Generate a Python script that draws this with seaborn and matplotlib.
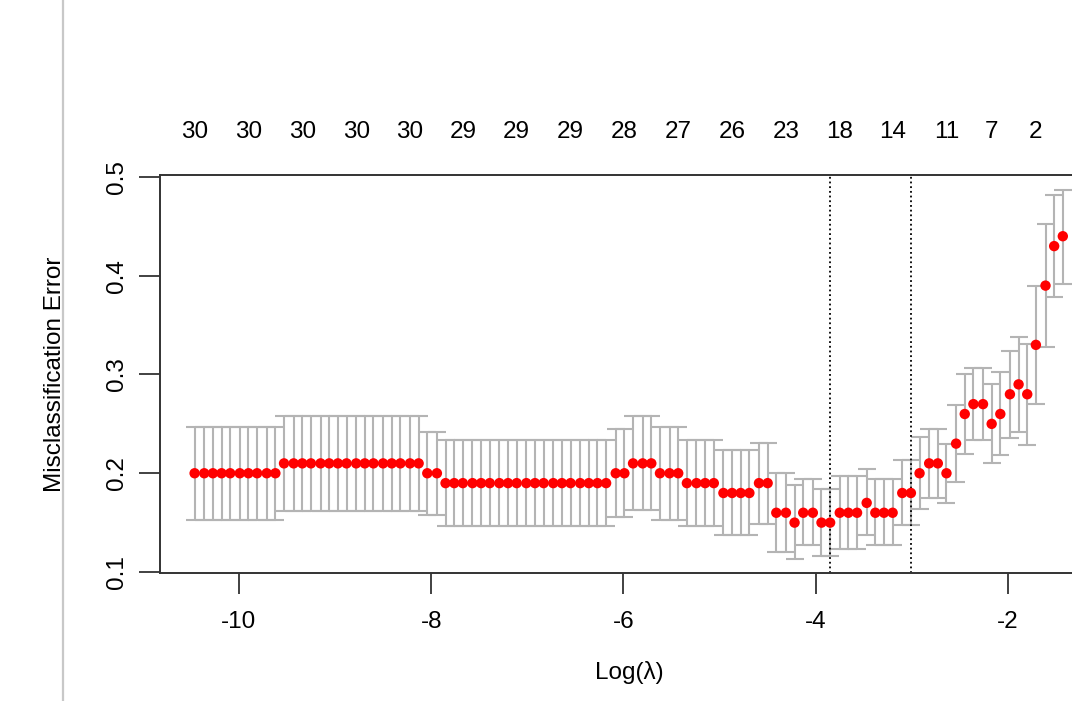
import matplotlib
matplotlib.use('Agg')
import matplotlib.pyplot as plt
import seaborn as sns
import pandas as pd

# cv.glmnet curve
log_lambda = [
    -10.46, -10.36, -10.27, -10.18, -10.09, -9.99, -9.90, -9.81, -9.71, -9.62,
    -9.53, -9.43, -9.34, -9.25, -9.15, -9.06, -8.97, -8.88, -8.78, -8.69,
    -8.60, -8.50, -8.41, -8.32, -8.22, -8.13, -8.04, -7.94, -7.85, -7.76,
    -7.67, -7.57, -7.48, -7.39, -7.29, -7.20, -7.11, -7.01, -6.92, -6.83,
    -6.73, -6.64, -6.55, -6.45, -6.36, -6.27, -6.18, -6.08, -5.99, -5.90,
    -5.80, -5.71, -5.62, -5.52, -5.43, -5.34, -5.24, -5.15, -5.06, -4.96,
    -4.87, -4.78, -4.69, -4.59, -4.50, -4.41, -4.31, -4.22, -4.13, -4.03,
    -3.94, -3.85, -3.75, -3.66, -3.57, -3.47, -3.38, -3.29, -3.20, -3.10,
    -3.01, -2.92, -2.82, -2.73, -2.64, -2.54, -2.45, -2.36, -2.26, -2.17,
    -2.08, -1.98, -1.89, -1.80, -1.71, -1.61, -1.52, -1.43,
]

cv_mean = [
    0.20, 0.20, 0.20, 0.20, 0.20, 0.20, 0.20, 0.20, 0.20, 0.20,
    0.21, 0.21, 0.21, 0.21, 0.21, 0.21, 0.21, 0.21, 0.21, 0.21,
    0.21, 0.21, 0.21, 0.21, 0.21, 0.21, 0.20, 0.20, 0.19, 0.19,
    0.19, 0.19, 0.19, 0.19, 0.19, 0.19, 0.19, 0.19, 0.19, 0.19,
    0.19, 0.19, 0.19, 0.19, 0.19, 0.19, 0.19, 0.20, 0.20, 0.21,
    0.21, 0.21, 0.20, 0.20, 0.20, 0.19, 0.19, 0.19, 0.19, 0.18,
    0.18, 0.18, 0.18, 0.19, 0.19, 0.16, 0.16, 0.15, 0.16, 0.16,
    0.15, 0.15, 0.16, 0.16, 0.16, 0.17, 0.16, 0.16, 0.16, 0.18,
    0.18, 0.20, 0.21, 0.21, 0.20, 0.23, 0.26, 0.27, 0.27, 0.25,
    0.26, 0.28, 0.29, 0.28, 0.33, 0.39, 0.43, 0.44,
]

cv_upper = [
    0.247, 0.247, 0.247, 0.247, 0.247, 0.247, 0.247, 0.247, 0.247, 0.247,
    0.258, 0.258, 0.258, 0.258, 0.258, 0.258, 0.258, 0.258, 0.258, 0.258,
    0.258, 0.258, 0.258, 0.258, 0.258, 0.258, 0.242, 0.242, 0.234, 0.234,
    0.234, 0.234, 0.234, 0.234, 0.234, 0.234, 0.234, 0.234, 0.234, 0.234,
    0.234, 0.234, 0.234, 0.234, 0.234, 0.234, 0.234, 0.245, 0.245, 0.258,
    0.258, 0.258, 0.247, 0.247, 0.247, 0.234, 0.234, 0.234, 0.234, 0.224,
    0.224, 0.224, 0.224, 0.231, 0.231, 0.200, 0.200, 0.188, 0.194, 0.194,
    0.184, 0.184, 0.197, 0.197, 0.197, 0.204, 0.194, 0.194, 0.194, 0.213,
    0.213, 0.237, 0.245, 0.245, 0.230, 0.269, 0.300, 0.307, 0.307, 0.290,
    0.303, 0.324, 0.338, 0.331, 0.390, 0.452, 0.482, 0.487,
]

cv_lower = [
    0.153, 0.153, 0.153, 0.153, 0.153, 0.153, 0.153, 0.153, 0.153, 0.153,
    0.162, 0.162, 0.162, 0.162, 0.162, 0.162, 0.162, 0.162, 0.162, 0.162,
    0.162, 0.162, 0.162, 0.162, 0.162, 0.162, 0.158, 0.158, 0.147, 0.147,
    0.147, 0.147, 0.147, 0.147, 0.147, 0.147, 0.147, 0.147, 0.147, 0.147,
    0.147, 0.147, 0.147, 0.147, 0.147, 0.147, 0.147, 0.156, 0.156, 0.163,
    0.163, 0.163, 0.153, 0.153, 0.153, 0.147, 0.147, 0.147, 0.147, 0.137,
    0.137, 0.137, 0.137, 0.149, 0.149, 0.120, 0.120, 0.113, 0.127, 0.127,
    0.116, 0.116, 0.123, 0.123, 0.123, 0.137, 0.127, 0.127, 0.127, 0.148,
    0.148, 0.164, 0.175, 0.175, 0.170, 0.191, 0.220, 0.234, 0.234, 0.210,
    0.218, 0.236, 0.242, 0.229, 0.270, 0.328, 0.378, 0.392,
]

# number of non-zero coefficients shown on the top axis
nz_index = [0, 6, 12, 18, 24, 30, 36, 42, 48, 54, 60, 66, 72, 78, 84, 89, 94]
nz_labels = ['30', '30', '30', '30', '30', '29', '29', '29', '28', '27',
             '26', '23', '18', '14', '11', '7', '2']

lambda_min = -3.85
lambda_1se = -3.01

x_ticks = [-10, -8, -6, -4, -2]
y_ticks = [0.1, 0.2, 0.3, 0.4, 0.5]

sns.set_style('white')
plt.rcParams['font.family'] = ['Liberation Sans', 'DejaVu Sans']
FS = 17.5

df = pd.DataFrame({'log_lambda': log_lambda, 'cvm': cv_mean,
                   'cvup': cv_upper, 'cvlo': cv_lower})

W, H = 1072, 701
fig = plt.figure(figsize=(W / 100, H / 100), dpi=100)
ax = fig.add_axes([160 / W, 128 / H, 938 / W, 398 / H])

ax.errorbar(df['log_lambda'], df['cvm'],
            yerr=[df['cvm'] - df['cvlo'], df['cvup'] - df['cvm']],
            fmt='none', ecolor='#b4b4b4', elinewidth=1.5,
            capsize=6.3, capthick=1.5, zorder=1)
sns.scatterplot(data=df, x='log_lambda', y='cvm', color='#ff0000', s=56,
                edgecolor='none', linewidth=0, ax=ax, zorder=3)

ax.axvline(lambda_min, color='black', ls=(0, (1, 1.6)), lw=1.3, zorder=2)
ax.axvline(lambda_1se, color='black', ls=(0, (1, 1.6)), lw=1.3, zorder=2)

ax.set_xlim(-10.82, -1.064)
ax.set_ylim(0.099, 0.502)
ax.set_xticks(x_ticks)
ax.set_xticklabels([str(t) for t in x_ticks])
ax.set_yticks(y_ticks)
ax.set_yticklabels([f'{t:.1f}' for t in y_ticks], rotation=90, va='center')

ax.tick_params(axis='both', direction='out', length=15, width=1.3,
               color='#333333', labelsize=FS, labelcolor='black')
ax.tick_params(axis='x', pad=12)
ax.tick_params(axis='y', pad=8)
ax.tick_params(bottom=True, left=True)

for side in ['left', 'bottom', 'top', 'right']:
    ax.spines[side].set_color('#333333')
    ax.spines[side].set_linewidth(1.4)

ax.set_xlabel('Log(λ)', fontsize=FS, color='black')
ax.set_ylabel('Misclassification Error', fontsize=FS, color='black')
ax.xaxis.set_label_coords(0.5, (573 - 673) / 398)
ax.xaxis.label.set_va('center')
ax.yaxis.set_label_coords((55 - 160) / 938, 0.5)
ax.yaxis.label.set_va('center')

for i, lab in zip(nz_index, nz_labels):
    ax.text(log_lambda[i], 1 + 43 / 398, lab, transform=ax.get_xaxis_transform(),
            ha='center', va='center', fontsize=FS, color='black')

# thin grey panel border on the far left
fig.add_artist(plt.Line2D([63 / W, 63 / W], [0, 1], color='#c8c8c8', lw=1.6,
                          transform=fig.transFigure))

fig.savefig('out.png', dpi=100)
